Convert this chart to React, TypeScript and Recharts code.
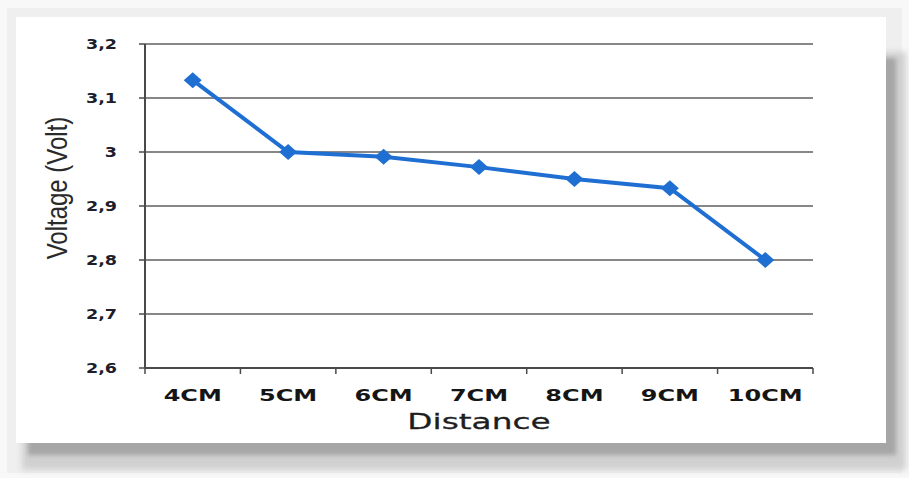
import { LineChart, Line, XAxis, YAxis, CartesianGrid } from 'recharts';

const distances = ['4CM', '5CM', '6CM', '7CM', '8CM', '9CM', '10CM'];
const voltages = [3.133, 3.0, 2.991, 2.972, 2.95, 2.933, 2.8];
const voltageTicks = [2.6, 2.7, 2.8, 2.9, 3.0, 3.1, 3.2];

const LINE_BLUE = '#1f6fd3';
const GRID_GREY = '#878787';
const AXIS_DARK = '#4a4a4a';

const data = distances.map((d, i) => ({ dist: d, volt: voltages[i] }));

// comma decimal, "3" instead of "3,0"
const fmt = (v: number) => String(Math.round(v * 10) / 10).replace('.', ',');

function YTick({ x, y, payload }: any) {
  return (
    <g transform={`translate(${x},${y}) scale(1.3,1)`}>
      <text x={0} y={0} dy={5} textAnchor="end" fontFamily="DejaVu Sans" fontWeight="bold" fontSize={13.5} fill="#1d1d2b">
        {fmt(payload.value)}
      </text>
    </g>
  );
}

// category label plus the small marks on the band edges
function XTick({ x, y, payload, index }: any) {
  const half = payload.offset || 0;
  const last = index === distances.length - 1;
  return (
    <g>
      <line x1={x - half} x2={x - half} y1={y} y2={y + 6} stroke={AXIS_DARK} strokeWidth={1.5} />
      {last && <line x1={x + half} x2={x + half} y1={y} y2={y + 6} stroke={AXIS_DARK} strokeWidth={1.5} />}
      <g transform={`translate(${x},${y + 33}) scale(1.5,1)`}>
        <text x={0} y={0} textAnchor="middle" fontFamily="DejaVu Sans" fontWeight="bold" fontSize={16} fill="#151515">
          {payload.value}
        </text>
      </g>
    </g>
  );
}

function Diamond({ cx, cy }: any) {
  if (cx == null || cy == null) return null;
  return <polygon points={`${cx},${cy - 8} ${cx + 9},${cy} ${cx},${cy + 8} ${cx - 9},${cy}`} fill={LINE_BLUE} />;
}

function YTitle({ viewBox }: any) {
  const cy = viewBox.y + viewBox.height / 2 - 18;
  return (
    <g transform={`translate(67,${cy}) rotate(-90) scale(1,1.25)`}>
      <text x={0} y={0} textAnchor="middle" fontFamily="Liberation Sans" fontSize={24} fill="#2a2a2a">
        Voltage (Volt)
      </text>
    </g>
  );
}

function XTitle({ viewBox }: any) {
  const cx = viewBox.x + viewBox.width / 2;
  return (
    <g transform={`translate(${cx},429) scale(1.49,1)`}>
      <text x={0} y={0} textAnchor="middle" fontFamily="DejaVu Sans" fontSize={22} fill="#1e1e1e" stroke="#1e1e1e" strokeWidth={0.3}>
        Distance
      </text>
    </g>
  );
}

export default function App() {
  return (
    <div style={{ position: 'absolute', left: 0, top: 0, width: 909, height: 478, background: '#f8f8f8', overflow: 'hidden' }}>
      <div style={{ position: 'absolute', left: 7, top: 8, width: 895, height: 465, background: '#efefef' }} />
      {/* drop shadow under the card */}
      <div style={{ position: 'absolute', left: 22, top: 52, width: 884, height: 418, background: '#d0d0d0', filter: 'blur(3px)' }} />
      <div style={{ position: 'absolute', left: 28, top: 58, width: 868, height: 397, background: '#a6a6a6', filter: 'blur(2px)' }} />
      <div style={{ position: 'absolute', left: 16, top: 17, width: 870, height: 426, background: '#fff' }} />
      <div style={{ position: 'absolute', left: 0, top: 0 }}>
        <LineChart width={909} height={478} data={data} margin={{ top: 44, right: 96, left: 0, bottom: 46 }}>
          <CartesianGrid horizontal vertical={false} stroke={GRID_GREY} strokeWidth={2} />
          <XAxis
            dataKey="dist"
            scale="band"
            interval={0}
            height={64}
            tickLine={false}
            tickSize={0}
            tickMargin={0}
            tick={<XTick />}
            axisLine={{ stroke: AXIS_DARK, strokeWidth: 2 }}
            label={<XTitle />}
          />
          <YAxis
            width={145}
            domain={[2.6, 3.2]}
            ticks={voltageTicks}
            interval={0}
            tick={<YTick />}
            tickSize={6}
            tickMargin={22}
            tickLine={{ stroke: AXIS_DARK, strokeWidth: 1.5 }}
            axisLine={{ stroke: AXIS_DARK, strokeWidth: 2 }}
            label={<YTitle />}
          />
          <Line
            type="linear"
            dataKey="volt"
            stroke={LINE_BLUE}
            strokeWidth={4}
            dot={<Diamond />}
            activeDot={false}
            isAnimationActive={false}
          />
        </LineChart>
      </div>
    </div>
  );
}
